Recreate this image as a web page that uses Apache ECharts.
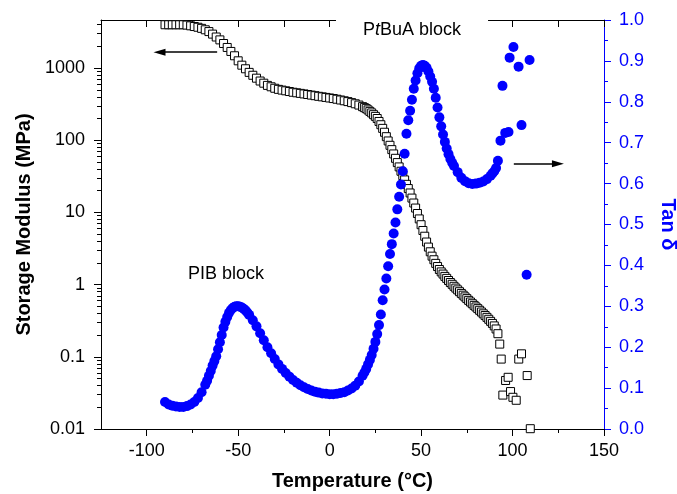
<!DOCTYPE html>
<html><head><meta charset="utf-8">
<script src="https://cdn.jsdelivr.net/npm/echarts@6/dist/echarts.min.js"></script>
<style>html,body{margin:0;padding:0;background:#fff}#c{width:677px;height:494px}</style>
</head><body><div id="c"></div>
<script>
// Storage modulus (MPa) vs temperature (°C)
const tempModulus = [-90,-88,-86,-84,-82,-80,-78,-76,-74,-72,-70,-68,-66,-64,-62,-60,-58,-56,-54,-52,
  -50,-48,-46,-44,-42,-40,-38,-36,-34,-32,-30,-28,-26,-24,-22,-20,-18,-16,-14,-12,
  -10,-8,-6,-4,-2,0,2,4,6,8,10,12,14,16,18,
  19,20,21,22,23,24,25,26,27,28,29,30,31,32,33,34,35,36,37,38,
  39,40,41,42,43,44,45,46,47,48,49,50,51,52,53,54,55,56,57,58,
  59,60,61,62,63,64,65,66,67,68,69,70,71,72,73,74,75,76,77,78,
  79,80,81,82,83,84,85,86,87,88,89,90,91,92,93,
  93.8,94.7,96.2,97.6,98.9,100.2,102,103.4,104.9,108,109.7];
const storageModulus = [3981,3981,3981,3981,3981,3981,3936,3846,3758,3673,3548,3388,3199,2951,2692,2455,2188,1928,1698,1479,
  1259,1096,977,871,794,724,661,617,575,550,525,507,495,484,473,462,454,446,438,430,
  422,414,406,399,392,385,378,370,361,352,343,332,320,307,292,
  283,274,263,251,239,226,214,200,182,164,146,129,112,97.7,85.1,74.1,64.6,56.2,49.0,42.7,
  37.2,32.4,28.2,24.5,21.4,18.6,15.8,13.5,11.5,9.66,8.13,6.76,5.62,4.68,3.89,3.31,2.85,2.48,2.21,1.97,
  1.78,1.62,1.50,1.40,1.30,1.22,1.14,1.07,1.01,0.948,0.895,0.845,0.798,0.755,0.714,0.676,0.640,0.605,0.574,0.544,
  0.516,0.490,0.465,0.441,0.417,0.394,0.373,0.352,0.331,0.310,0.290,0.268,0.243,0.209,0.15,
  0.093,0.0295,0.047,0.052,0.033,0.0275,0.025,0.093,0.11,0.055,0.0101];

// Tan delta vs temperature (°C)
const tempTan = [-90,-88,-86,-84,-82,-80,-78,-76,-74,-72,-70,-68,-67,-66,-65,-64,-63,-62,-61,-60,
  -59,-58,-57,-56,-55,-54,-53,-52,-51,-50,-49,-48,-47,-46,-45,-44,-42,-40,-38,-36,
  -34,-32,-30,-28,-26,-24,-22,-20,-18,-16,-14,-12,-10,-8,-6,-4,-2,0,2,4,
  6,8,10,12,14,16,18,19,20,21,22,23,24,25,26,27,28,29,30,31,
  32,33,34,35,36,37,38,39,40,41,42,43,44,45,46,47,48,49,50,51,
  52,53,54,55,56,57,58,59,60,61,62,63,64,65,66,67,68,70,72,74,
  76,78,80,82,84,86,88,89,90,91,92,
  93.4,94.5,96,97.8,98.4,100.5,103.3,104.9,107.7,109.3];
const tanDelta = [0.066,0.060,0.057,0.055,0.054,0.054,0.056,0.060,0.066,0.076,0.090,0.108,0.118,0.130,0.142,0.155,0.166,0.178,0.195,0.212,
  0.230,0.248,0.262,0.274,0.284,0.291,0.296,0.299,0.300,0.300,0.299,0.297,0.294,0.290,0.285,0.279,0.266,0.251,0.234,0.217,
  0.200,0.185,0.171,0.158,0.147,0.137,0.128,0.120,0.113,0.107,0.102,0.098,0.094,0.091,0.089,0.087,0.086,0.085,0.085,0.086,
  0.088,0.090,0.094,0.099,0.106,0.116,0.130,0.138,0.147,0.158,0.169,0.181,0.196,0.213,0.232,0.254,0.280,0.315,0.341,0.368,
  0.398,0.428,0.452,0.478,0.505,0.537,0.568,0.598,0.630,0.673,0.722,0.755,0.778,0.805,0.832,0.852,0.870,0.882,0.888,0.890,
  0.888,0.883,0.874,0.862,0.849,0.832,0.810,0.786,0.762,0.740,0.720,0.702,0.686,0.672,0.660,0.651,0.643,0.628,0.614,0.606,
  0.601,0.599,0.600,0.602,0.605,0.611,0.619,0.625,0.630,0.638,0.656,
  0.705,0.839,0.724,0.726,0.908,0.934,0.886,0.743,0.377,0.902];

const xMajorTicks = [-100, -50, 0, 50, 100, 150];
const xMinorTicks = [-75, -25, 25, 75, 125];
const yLeftTickLabels = ['0.01', '0.1', '1', '10', '100', '1000'];

const X_MIN = -125, X_MAX = 150;
const YL_MIN = 0.01, YL_MAX = 4630;
const LOG_MIN = Math.log10(YL_MIN), LOG_MAX = Math.log10(YL_MAX);
const majorLog = [-2, -1, 0, 1, 2, 3];
const minorLog = [];
for (let n = -2; n <= 3; n++) for (let k = 2; k <= 9; k++) {
  const v = Math.log10(k) + n; if (v < LOG_MAX) minorLog.push(v);
}

const FONT = '"Liberation Sans", Arial, sans-serif';
const BLUE = '#0000ff';

const chart = echarts.init(document.getElementById('c'), null, {renderer: 'canvas'});
const hiddenLine = {show: false, onZero: false};
chart.setOption({
  animation: false,
  backgroundColor: '#fff',
  grid: {left: 101, right: 73, top: 20, bottom: 65, containLabel: false, outerBoundsMode: 'none'},
  xAxis: [
    {type: 'value', position: 'bottom', min: X_MIN, max: X_MAX,
     name: 'Temperature (°C)', nameLocation: 'middle', nameGap: 42,
     nameTextStyle: {fontFamily: FONT, fontSize: 20, fontWeight: 'bold', color: '#000'},
     axisLine: {show: true, onZero: false, lineStyle: {color: '#000', width: 1}},
     axisTick: {show: true, customValues: xMajorTicks, length: 7, lineStyle: {color: '#000'}},
     axisLabel: {show: true, customValues: xMajorTicks, margin: 13, fontFamily: FONT, fontSize: 18, color: '#000'},
     splitLine: {show: false}},
    {type: 'value', position: 'bottom', min: X_MIN, max: X_MAX,
     axisLine: hiddenLine,
     axisTick: {show: true, customValues: xMinorTicks, length: 4, lineStyle: {color: '#000'}},
     axisLabel: {show: false}, splitLine: {show: false}},
    {type: 'value', position: 'top', min: X_MIN, max: X_MAX, interval: 25,
     axisLine: {show: true, onZero: false, lineStyle: {color: '#000', width: 1}},
     axisTick: {show: true, inside: true, length: 7, lineStyle: {color: '#000'}},
     axisLabel: {show: false}, splitLine: {show: false}}
  ],
  yAxis: [
    {type: 'log', logBase: 10, position: 'left', min: YL_MIN, max: YL_MAX,
     name: 'Storage Modulus (MPa)', nameLocation: 'middle', nameGap: 64,
     nameTextStyle: {fontFamily: FONT, fontSize: 20, fontWeight: 'bold', color: '#000'},
     axisLine: {show: true, onZero: false, lineStyle: {color: '#000', width: 1}},
     axisTick: {show: false},
     axisLabel: {show: true, margin: 16, fontFamily: FONT, fontSize: 18, color: '#000',
       formatter: function (v) {
         const l = Math.log10(v), e = Math.round(l);
         if (Math.abs(l - e) > 1e-6) return '';
         return yLeftTickLabels[e + 2] || '';
       }},
     splitLine: {show: false}},
    {type: 'value', position: 'left', min: LOG_MIN, max: LOG_MAX,
     axisLine: hiddenLine,
     axisTick: {show: true, customValues: majorLog, length: 7, lineStyle: {color: '#000'}},
     axisLabel: {show: false}, splitLine: {show: false}},
    {type: 'value', position: 'left', min: LOG_MIN, max: LOG_MAX,
     axisLine: hiddenLine,
     axisTick: {show: true, customValues: minorLog, length: 4, lineStyle: {color: '#000'}},
     axisLabel: {show: false}, splitLine: {show: false}},
    {type: 'value', position: 'right', min: 0, max: 1, interval: 0.1,
     name: 'Tan δ', nameLocation: 'middle', nameGap: 54, nameRotate: -90,
     nameTextStyle: {fontFamily: FONT, fontSize: 20, fontWeight: 'bold', color: BLUE},
     axisLine: {show: true, onZero: false, lineStyle: {color: BLUE, width: 1}},
     axisTick: {show: true, length: 7, lineStyle: {color: BLUE}},
     minorTick: {show: true, splitNumber: 2, length: 4, lineStyle: {color: BLUE}},
     axisLabel: {show: true, margin: 15, fontFamily: FONT, fontSize: 18, color: BLUE,
       formatter: function (v) { return v.toFixed(1); }},
     splitLine: {show: false}, minorSplitLine: {show: false}}
  ],
  series: [
    {type: 'scatter', name: 'Storage Modulus', xAxisIndex: 0, yAxisIndex: 0,
     data: tempModulus.map(function (t, i) { return [t, storageModulus[i]]; }),
     symbol: 'rect', symbolSize: 8,
     itemStyle: {color: '#ffffff', borderColor: '#000', borderWidth: 1, opacity: 1},
     markLine: {silent: true, symbol: ['none', 'triangle'], symbolSize: [7, 12],
       label: {show: false}, lineStyle: {color: '#000', width: 1.5, type: 'solid'},
       data: [[{coord: [-61.5, 1660]}, {coord: [-93, 1660]}]]},
     z: 2},
    {type: 'scatter', name: 'Tan δ', xAxisIndex: 0, yAxisIndex: 3,
     data: tempTan.map(function (t, i) { return [t, tanDelta[i]]; }),
     symbol: 'circle', symbolSize: 10,
     itemStyle: {color: BLUE, opacity: 1},
     markLine: {silent: true, symbol: ['none', 'triangle'], symbolSize: [7, 12],
       label: {show: false}, lineStyle: {color: '#000', width: 1.5, type: 'solid'},
       data: [[{coord: [100.7, 0.6485]}, {coord: [124.8, 0.6485]}]]},
     z: 3}
  ],
  graphic: [
    {type: 'text', left: 188, top: 265, z: 100,
     style: {text: 'PIB block', fontFamily: FONT, fontSize: 18, fill: '#000'}},
    {type: 'text', left: 336, top: 17, z: 100,
     style: {text: 'P{i|t}BuA block', fontFamily: FONT, fontSize: 18, fill: '#000',
       backgroundColor: '#fff', padding: [4, 27, 4, 27],
       rich: {i: {fontFamily: FONT, fontSize: 18, fontStyle: 'italic', fill: '#000'}}}}
  ]
});
</script>
</body></html>
